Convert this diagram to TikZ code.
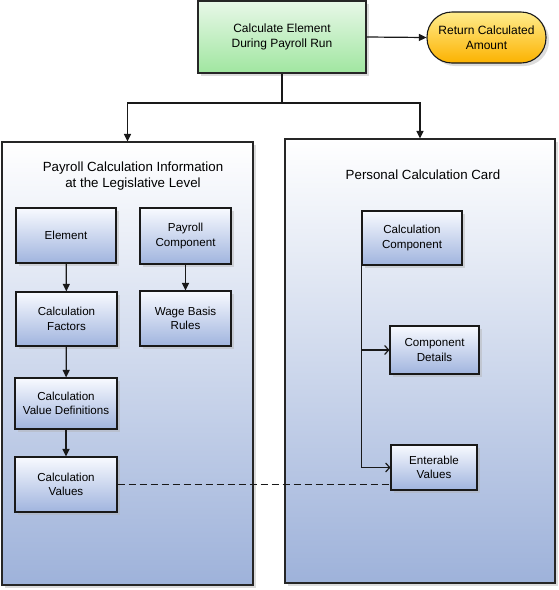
\documentclass[tikz,border=0pt]{standalone}
\usepackage{fontspec}
\setmainfont{Liberation Sans}
\usetikzlibrary{arrows.meta,shadows}
\definecolor{contbot}{RGB}{158,178,218}
\definecolor{innbot}{RGB}{160,180,222}
\definecolor{inntop}{RGB}{248,250,255}
\definecolor{grtop}{RGB}{232,248,232}
\definecolor{grbot}{RGB}{160,230,160}
\definecolor{yetop}{RGB}{255,236,140}
\definecolor{yebot}{RGB}{252,178,0}
\begin{document}
\begin{tikzpicture}[x=1pt,y=-1pt,
  shad/.style={drop shadow={shadow xshift=3pt,shadow yshift=-3pt,fill=black!30,opacity=0.45}},
  container/.style={draw=black!85,line width=1.1pt,top color=white,bottom color=contbot,shad,inner sep=0pt},
  innerbox/.style={draw=black!90,line width=1.1pt,top color=inntop,bottom color=innbot,shad,inner sep=0pt,align=center,font=\fontsize{11.6}{14.5}\selectfont},
  titletext/.style={align=center,font=\fontsize{13.3}{16}\selectfont,inner sep=0pt},
  conn/.style={line width=1.2pt,draw=black!90},
  arr/.style={conn,-{Triangle[length=7.5pt,width=7pt]}},
  openarr/.style={conn,-{Straight Barb[length=4pt,width=9pt]}}]
\useasboundingbox (0,0) rectangle (559,590);
% top
\node[draw=black!85,line width=1.1pt,top color=grtop,bottom color=grbot,shad,minimum width=168pt,minimum height=72pt,inner sep=0pt,align=center,font=\fontsize{12}{15}\selectfont] (calc) at (282,37) {Calculate Element\\During Payroll Run};
\node[draw=black!90,line width=1.1pt,top color=yetop,bottom color=yebot,shad,minimum width=119pt,minimum height=51pt,rounded corners=25pt,inner sep=0pt,align=center,font=\fontsize{12}{15}\selectfont] (ret) at (486.5,37.5) {Return Calculated\\Amount};
% containers
\node[container,minimum width=251pt,minimum height=443pt] (left) at (127.5,363.5) {};
\node[container,minimum width=270pt,minimum height=444pt] (right) at (420,361) {};
\node[titletext] (ltitle) at (133,176) {Payroll Calculation Information\\at the Legislative Level};
\node[titletext] (rtitle) at (423,175) {Personal Calculation Card};
% left inner
\node[innerbox,minimum width=100pt,minimum height=55pt] (elem) at (66,235.5) {Element};
\node[innerbox,minimum width=91pt,minimum height=56pt] (pcomp) at (185.5,236) {Payroll\\Component};
\node[innerbox,minimum width=101pt,minimum height=54pt] (cfac) at (66.5,319) {Calculation\\Factors};
\node[innerbox,minimum width=91pt,minimum height=55pt] (wage) at (185.5,318.5) {Wage Basis\\Rules};
\node[innerbox,minimum width=102pt,minimum height=51pt] (cvd) at (66,403.5) {Calculation\\Value Definitions};
\node[innerbox,minimum width=102pt,minimum height=55pt] (cv) at (66,484.5) {Calculation\\Values};
% right inner
\node[innerbox,minimum width=100pt,minimum height=54pt] (ccomp) at (412,238) {Calculation\\Component};
\node[innerbox,minimum width=89pt,minimum height=48pt] (cdet) at (434.5,350) {Component\\Details};
\node[innerbox,minimum width=86pt,minimum height=45pt] (ev) at (434,467.5) {Enterable\\Values};
% connectors
\draw[arr] (calc.east) -- (ret.west);
\coordinate (j) at (282,103);
\draw[conn] (calc.south) -- (j);
\draw[arr] (j) -| (left.north);
\draw[arr] (j) -| (right.north);
\draw[arr] (elem) -- (cfac);
\draw[arr] (cfac) -- (cvd);
\draw[arr] (cvd) -- (cv);
\draw[arr] (pcomp) -- (wage);
\coordinate (b1) at (ccomp.south west |- cdet.west);
\coordinate (b2) at (ccomp.south west |- ev.west);
\draw[conn] (ccomp.south west) -- (b2);
\draw[openarr] (b1) -- (cdet.west);
\draw[openarr] (b2) -- (ev.west);
\draw[conn,line width=1pt,dash pattern=on 7pt off 4pt] (cv.east) -- (cv.east -| ev.west);
\end{tikzpicture}
\end{document}
